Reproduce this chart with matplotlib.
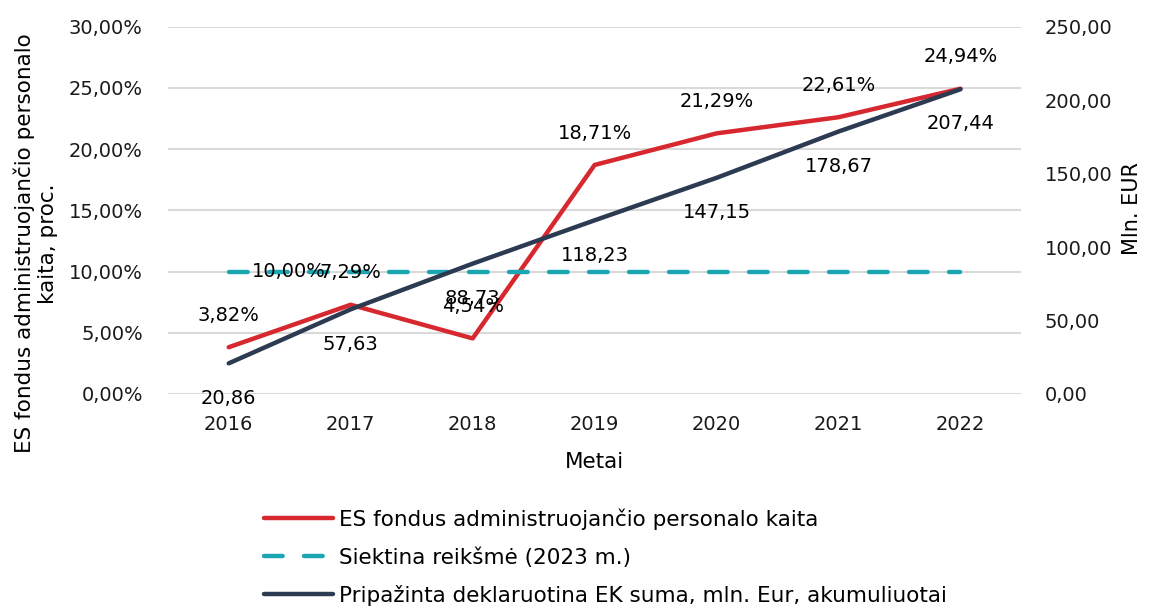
import matplotlib
matplotlib.use("Agg")
import matplotlib.pyplot as plt
from matplotlib.ticker import FuncFormatter, MultipleLocator

years = ["2016", "2017", "2018", "2019", "2020", "2021", "2022"]
staff_change = [3.82, 7.29, 4.54, 18.71, 21.29, 22.61, 24.94]
target = [10.0, 10.0, 10.0, 10.0, 10.0, 10.0, 10.0]
ec_sum = [20.86, 57.63, 88.73, 118.23, 147.15, 178.67, 207.44]

RED = "#D7282F"
TEAL = "#1AA7B3"
NAVY = "#2D3B52"
GRID = "#D9D9D9"
FS = 14
FSL = 15.5

plt.rcParams['font.family'] = ['DejaVu Sans']
plt.rcParams['font.size'] = FS

fig = plt.figure(figsize=(11.49, 6.08), dpi=100)
ax = fig.add_axes([0.146, 0.352, 0.743, 0.604])
ax2 = ax.twinx()

x = list(range(len(years)))

l1, = ax.plot(x, staff_change, color=RED, lw=3.2, solid_capstyle='round', zorder=3)
l2, = ax.plot(x, target, color=TEAL, lw=3.2, dashes=(4.2, 4.8), dash_capstyle='round', zorder=3)
l3, = ax2.plot(x, ec_sum, color=NAVY, lw=3.2, solid_capstyle='round', zorder=3)

ax.set_xlim(-0.5, len(years) - 0.5)
ax.set_ylim(0, 30)
ax2.set_ylim(0, 250)
ax.yaxis.set_major_locator(MultipleLocator(5))
ax2.yaxis.set_major_locator(MultipleLocator(50))

pct_fmt = FuncFormatter(lambda v, p: f"{v:.2f}%".replace(".", ","))
num_fmt = FuncFormatter(lambda v, p: f"{v:.2f}".replace(".", ","))
ax.yaxis.set_major_formatter(pct_fmt)
ax2.yaxis.set_major_formatter(num_fmt)

ax.set_xticks(x)
ax.set_xticklabels(years)
ax.grid(axis='y', color=GRID, lw=1.5, zorder=0)
ax.set_axisbelow(True)
for a in (ax, ax2):
    for s in a.spines.values():
        s.set_visible(False)
    a.tick_params(length=0, labelsize=FS, colors='#1a1a1a')
ax.tick_params(axis='y', pad=18)
ax2.tick_params(axis='y', pad=16.5)
ax.tick_params(axis='x', pad=15)

ax.set_xlabel("Metai", fontsize=FSL, labelpad=13)
ax.set_ylabel("ES fondus administruojančio personalo\nkaita, proc.", fontsize=FSL)
ax.yaxis.set_label_coords(-0.128, 0.41)
ax2.set_ylabel("Mln. EUR", fontsize=15)
ax2.yaxis.set_label_coords(1.118, 0.505)

# data labels
for xi, v in zip(x, staff_change):
    ax.annotate(f"{v:.2f}%".replace(".", ","), (xi, v), xytext=(0, 23), textcoords='offset points',
                ha='center', va='center', fontsize=FS, zorder=5)
ax.annotate(f"{target[0]:.2f}%".replace(".", ","), (x[0], target[0]), xytext=(17, 0),
            textcoords='offset points', ha='left', va='center', fontsize=FS, zorder=5)
for xi, v in zip(x, ec_sum):
    ax2.annotate(f"{v:.2f}".replace(".", ","), (xi, v), xytext=(0, -25),
                 textcoords='offset points', ha='center', va='center', fontsize=FS, zorder=5)

fig.legend([l1, l2, l3],
           ["ES fondus administruojančio personalo kaita",
            "Siektina reikšmė (2023 m.)",
            "Pripažinta deklaruotina EK suma, mln. Eur, akumuliuotai"],
           loc='upper left', bbox_to_anchor=(0.222, 0.178), frameon=False, ncol=1,
           handlelength=3.2, handletextpad=0.3, labelspacing=0.8, fontsize=FSL,
           borderaxespad=0)

fig.savefig("out.png", dpi=100)
